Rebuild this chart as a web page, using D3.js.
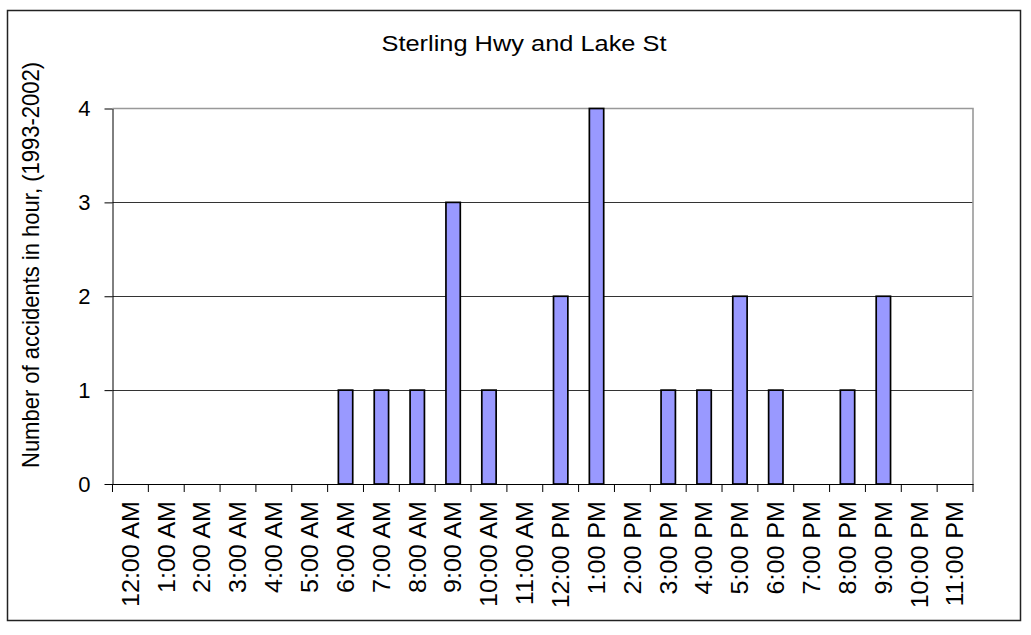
<!DOCTYPE html>
<html>
<head>
<meta charset="UTF-8">
<title>Sterling Hwy and Lake St</title>
<style>
  body { margin: 0; background: #ffffff; }
  svg text { font-family: "Liberation Sans", Arial, sans-serif; fill: #000; }
</style>
</head>
<body>
<div id="vis"></div>
<script src="https://d3js.org/d3.v7.min.js"></script>
<script>
// hour of day categories and accident counts (1993-2002)
var hours = ["12:00 AM", "1:00 AM", "2:00 AM", "3:00 AM", "4:00 AM", "5:00 AM",
             "6:00 AM", "7:00 AM", "8:00 AM", "9:00 AM", "10:00 AM", "11:00 AM",
             "12:00 PM", "1:00 PM", "2:00 PM", "3:00 PM", "4:00 PM", "5:00 PM",
             "6:00 PM", "7:00 PM", "8:00 PM", "9:00 PM", "10:00 PM", "11:00 PM"];
var accidents = [0, 0, 0, 0, 0, 0,
                 1, 1, 1, 3, 1, 0,
                 2, 4, 0, 1, 1, 2,
                 1, 0, 1, 2, 0, 0];
var yTicks = [0, 1, 2, 3, 4];
var chartTitle = "Sterling Hwy and Lake St";
var yTitle = "Number of accidents in hour, (1993-2002)";

var width = 1031, height = 635;
var plot = {left: 112.5, right: 973, top: 108.5, bottom: 484};

var svg = d3.select("#vis").append("svg")
	.attr("width", width)
	.attr("height", height);

// outer chart border
svg.append("rect")
	.attr("x", 7.5).attr("y", 10.5)
	.attr("width", 1013).attr("height", 610)
	.attr("fill", "#fff")
	.attr("stroke", "#222")
	.attr("stroke-width", 1.5);

var x = d3.scaleBand()
	.domain(hours)
	.range([plot.left, plot.right])
	.paddingInner(0.6)
	.paddingOuter(0.3);
// band for tick boundaries (no padding)
var xb = d3.scaleBand().domain(hours).range([plot.left, plot.right]);

var y = d3.scaleLinear()
	.domain([0, 4])
	.range([plot.bottom, plot.top]);

// gridlines
svg.append("g")
	.selectAll("line")
	.data(yTicks.filter(function(d) { return d > 0 && d < 4; }))
	.enter().append("line")
	.attr("x1", plot.left).attr("x2", plot.right)
	.attr("y1", function(d) { return Math.round(y(d)) + 0.5; })
	.attr("y2", function(d) { return Math.round(y(d)) + 0.5; })
	.attr("stroke", "#333")
	.attr("stroke-width", 1);

// plot area top / right border (grey)
svg.append("path")
	.attr("d", "M" + plot.left + "," + plot.top + "H" + plot.right + "V" + plot.bottom)
	.attr("fill", "none")
	.attr("stroke", "#999")
	.attr("stroke-width", 1.6);

// bars
svg.append("g")
	.selectAll("rect")
	.data(hours.map(function(h, i) { return {h: h, v: accidents[i]}; })
		.filter(function(d) { return d.v > 0; }))
	.enter().append("rect")
	.attr("x", function(d) { return x(d.h); })
	.attr("y", function(d) { return y(d.v); })
	.attr("width", x.bandwidth())
	.attr("height", function(d) { return y(0) - y(d.v); })
	.attr("fill", "#9999ff")
	.attr("stroke", "#000")
	.attr("stroke-width", 1.7);

// y axis
var yAxis = svg.append("g")
	.attr("transform", "translate(" + plot.left + ",0)")
	.call(d3.axisLeft(y).tickValues(yTicks).tickFormat(d3.format("d"))
		.tickSize(8).tickSizeOuter(0).tickPadding(14));
yAxis.selectAll("text").style("font-size", "22px");
yAxis.selectAll("line,path").attr("stroke", "#000");

// x axis
var xAxis = svg.append("g")
	.attr("transform", "translate(0," + plot.bottom + ")")
	.call(d3.axisBottom(xb).tickSize(0).tickSizeOuter(0));
xAxis.select("path").attr("stroke", "#000");
xAxis.selectAll(".tick")
	.append("line")
	.attr("x1", -xb.bandwidth() / 2).attr("x2", -xb.bandwidth() / 2)
	.attr("y1", 0).attr("y2", 8)
	.attr("stroke", "#000");
xAxis.append("line")
	.attr("x1", plot.right).attr("x2", plot.right)
	.attr("y1", 0).attr("y2", 8)
	.attr("stroke", "#000");
var xLabels = xAxis.selectAll(".tick text")
	.style("font-size", "23px")
	.attr("transform", "rotate(-90)")
	.attr("x", -17)
	.attr("y", 0)
	.attr("dy", "0.36em")
	.style("text-anchor", "end");
var baseLen = xLabels.nodes()[0].getComputedTextLength();
var k = 106 / baseLen;
xLabels.each(function() {
	var len = this.getComputedTextLength();
	d3.select(this).attr("textLength", len * k).attr("lengthAdjust", "spacingAndGlyphs");
});

// title
svg.append("text")
	.attr("x", 524)
	.attr("y", 51)
	.attr("text-anchor", "middle")
	.style("font-size", "22px")
	.attr("textLength", 285)
	.attr("lengthAdjust", "spacingAndGlyphs")
	.text(chartTitle);

// y axis title
svg.append("text")
	.attr("transform", "translate(38.5,265) rotate(-90)")
	.attr("text-anchor", "middle")
	.style("font-size", "24px")
	.attr("textLength", 406)
	.attr("lengthAdjust", "spacingAndGlyphs")
	.text(yTitle);
</script>
</body>
</html>
